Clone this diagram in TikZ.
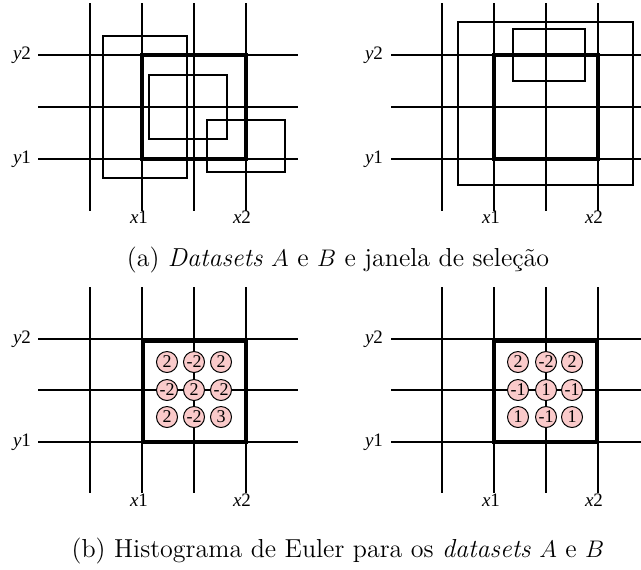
\documentclass[tikz,border=0pt]{standalone}
\usepackage{fontspec}
\newfontfamily\figfont{Liberation Serif}
\definecolor{cellpink}{RGB}{250,202,202}

\begin{document}
\begin{tikzpicture}[
        x=0.5pt, y=-0.5pt,
        gridline/.style={line width=0.6pt},
        dsbox/.style={line width=0.6pt},
        selwin/.style={line width=1.9pt},
        axlabel/.style={font=\figfont\fontsize{9.5}{10}\selectfont, inner sep=0pt},
        cell/.style={circle, draw, line width=0.5pt, fill=cellpink, minimum size=10.5pt,
            inner sep=0pt, font=\figfont\fontsize{9}{9}\selectfont},
        caption/.style={inner sep=0pt, anchor=base, font=\fontsize{13}{15}\selectfont}
    ]
    \useasboundingbox (0,0) rectangle (641,569);

    % (a) left: boxes of dataset A
    \begin{scope}
        \foreach \x in {90,142,194,246} \draw[gridline] (\x,3) -- (\x,211);
        \foreach \y in {55,107,159} \draw[gridline] (38,\y) -- (298,\y);
        \draw[dsbox] (103,36) rectangle (187,178);
        \draw[dsbox] (149,75) rectangle (227,139);
        \draw[dsbox] (207,120) rectangle (285,172);
        \draw[selwin] (142,55) rectangle (246,159);
        \node[axlabel] (ay2) at (22,55) {{\itshape y}2};
        \node[axlabel] (ay1) at (22,159) {{\itshape y}1};
        \node[axlabel] (ax1) at (139,217) {{\itshape x}1};
        \node[axlabel] (ax2) at (242,217) {{\itshape x}2};
    \end{scope}

    % (a) right: boxes of dataset B
    \begin{scope}[shift={(352,0)}]
        \foreach \x in {90,142,194,246} \draw[gridline] (\x,3) -- (\x,211);
        \foreach \y in {55,107,159} \draw[gridline] (39,\y) -- (289,\y);
        \draw[dsbox] (106,22) rectangle (281,185);
        \draw[dsbox] (161,29) rectangle (233,81);
        \draw[selwin] (142,55) rectangle (246,159);
        \node[axlabel] (by2) at (22,55) {{\itshape y}2};
        \node[axlabel] (by1) at (22,159) {{\itshape y}1};
        \node[axlabel] (bx1) at (139,217) {{\itshape x}1};
        \node[axlabel] (bx2) at (242,217) {{\itshape x}2};
    \end{scope}

    \node[caption] (capa) at (338,266)
    {(a) \textit{Datasets} $A$ e $B$ e janela de seleção};

    % (b) left: Euler histogram of A
    \begin{scope}[shift={(0,284)}]
        \foreach \x in {90,142,194,246} \draw[gridline] (\x,3) -- (\x,209);
        \foreach \y in {55,106,158} \draw[gridline] (38,\y) -- (298,\y);
        \draw[selwin] (143,57) rectangle (246,158);
        \foreach \cx/\cy/\v [count=\i] in {167/78/2, 194/78/-2, 221/78/2,
                167/106/-2, 194/106/2, 221/106/-2,
                167/133/2, 194/133/-2, 221/133/3}
            \node[cell] (ha\i) at (\cx,\cy) {\v};
        \node[axlabel] (cy2) at (22,55) {{\itshape y}2};
        \node[axlabel] (cy1) at (22,158) {{\itshape y}1};
        \node[axlabel] (cx1) at (139,216) {{\itshape x}1};
        \node[axlabel] (cx2) at (242,216) {{\itshape x}2};
    \end{scope}

    % (b) right: Euler histogram of B
    \begin{scope}[shift={(352,284)}]
        \foreach \x in {90,142,194,246} \draw[gridline] (\x,3) -- (\x,209);
        \foreach \y in {55,106,158} \draw[gridline] (39,\y) -- (289,\y);
        \draw[selwin] (142,57) rectangle (245,158);
        \foreach \cx/\cy/\v [count=\i] in {166/78/2, 194/78/-2, 220/78/2,
                166/106/-1, 194/106/1, 220/106/-1,
                166/133/1, 194/133/-1, 220/133/1}
            \node[cell] (hb\i) at (\cx,\cy) {\v};
        \node[axlabel] (dy2) at (22,55) {{\itshape y}2};
        \node[axlabel] (dy1) at (22,158) {{\itshape y}1};
        \node[axlabel] (dx1) at (139,216) {{\itshape x}1};
        \node[axlabel] (dx2) at (242,216) {{\itshape x}2};
    \end{scope}

    \node[caption] (capb) at (338,557)
    {(b) Histograma de Euler para os \textit{datasets} $A$ e $B$};

\end{tikzpicture}
\end{document}
